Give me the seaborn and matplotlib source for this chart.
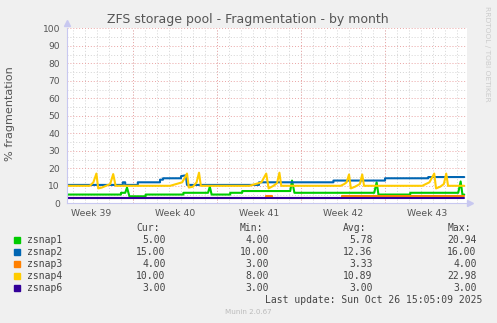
import numpy as np
import pandas as pd
import seaborn as sns
import matplotlib.pyplot as plt

# x values are days counted from the left edge of the graph
zsnap1_days = [0, 4.5, 4.5, 4.85, 5.0, 5.2, 6.55, 6.55, 9.7, 9.7, 11.75, 11.9, 12.05, 13.6, 13.6,
               14.6, 14.6, 18.6, 18.75, 18.95, 25.6, 25.8, 25.95, 28.6, 28.6, 32.6, 32.8, 32.95, 33.1]
zsnap1_vals = [5, 5, 6, 6, 9, 4, 4, 5, 5, 6, 6, 9.5, 5, 5, 6,
               6, 7, 7, 13, 6, 6, 12, 5, 5, 6, 6, 12.5, 5, 5]

zsnap2_days = [0, 4.65, 4.65, 4.85, 4.85, 5.9, 5.9, 7.75, 7.75, 8.0, 8.0, 9.5, 9.5, 9.9, 10.0,
               16.0, 16.0, 22.2, 22.2, 26.5, 26.5, 30.1, 30.1, 33.1]
zsnap2_vals = [10.5, 10.5, 12, 12, 10.5, 10.5, 12, 12, 13.5, 13.5, 14.3, 14.3, 15.5, 16, 10.5,
               10.5, 12, 12, 13, 13, 14.3, 14.3, 15, 15]

zsnap3_days = [0, 16.6, 16.6, 17.1, 17.1, 22.9, 22.9, 33.1]
zsnap3_vals = [3, 3, 4, 4, 3, 3, 4, 4]

zsnap4_days = [0, 1.9, 2.2, 2.45, 2.6, 2.9, 3.6, 3.85, 4.05,
               8.6, 9.6, 10.0, 10.15, 10.5, 10.8, 11.0, 11.15,
               15.2, 15.7, 16.2, 16.6, 16.8, 17.2, 17.5, 17.7, 17.85,
               22.8, 23.1, 23.3, 23.5, 23.65, 24.0, 24.4, 24.6, 24.75,
               29.6, 30.2, 30.6, 30.75, 31.1, 31.4, 31.6, 31.75, 33.1]
zsnap4_vals = [10, 10, 12, 17, 8.5, 9, 11, 16.7, 10,
               10, 12, 17, 9, 9.5, 12, 17.5, 10,
               10, 11, 12, 17, 8.5, 10, 11.5, 17.5, 10,
               10, 11, 12, 16.5, 8.5, 9.5, 11, 16.5, 10,
               10, 12, 17, 8.5, 9.5, 11, 17, 10, 10]

zsnap6_days = [0, 33.1]
zsnap6_vals = [3, 3]

series_names = ["zsnap1", "zsnap2", "zsnap3", "zsnap4", "zsnap6"]
series_colors = ["#00cc00", "#0066b3", "#ff8000", "#ffcc00", "#330099"]
cur_vals = ["5.00", "15.00", "4.00", "10.00", "3.00"]
min_vals = ["4.00", "10.00", "3.00", "8.00", "3.00"]
avg_vals = ["5.78", "12.36", "3.33", "10.89", "3.00"]
max_vals = ["20.94", "16.00", "4.00", "22.98", "3.00"]

week_labels = ["Week 39", "Week 40", "Week 41", "Week 42", "Week 43"]
week_centers = [2.0, 9.0, 16.0, 23.0, 30.0]
week_bounds = [5.5, 12.5, 19.5, 26.5]

all_days = [zsnap1_days, zsnap2_days, zsnap3_days, zsnap4_days, zsnap6_days]
all_vals = [zsnap1_vals, zsnap2_vals, zsnap3_vals, zsnap4_vals, zsnap6_vals]
frames = []
for name, d, v in zip(series_names, all_days, all_vals):
    frames.append(pd.DataFrame({"day": d, "value": v, "series": name}))
df = pd.concat(frames, ignore_index=True)

sns.set_theme(style="white")
plt.rcParams["font.family"] = ["DejaVu Sans"]

W, H = 497, 323
fig = plt.figure(figsize=(W / 100, H / 100), dpi=100, facecolor="#f0f0f0")
ax = fig.add_axes([67 / W, (H - 203.3) / H, 400 / W, 175 / H])
ax.set_facecolor("white")

ax.set_xlim(0, 33.33)
ax.set_ylim(0, 100)

# grid: gray dotted minor, red dotted major
dots = (0, (1, 2))
ax.set_yticks(np.arange(0, 101, 10))
ax.set_yticks(np.arange(0, 101, 5), minor=True)
ax.set_xticks(week_centers)
ax.set_xticks(np.arange(0.5, 33.3, 1.0), minor=True)
ax.set_xticklabels(week_labels)
ax.grid(False)
ax.grid(axis="y", which="minor", color="#d4d4d4", linestyle=dots, linewidth=0.7)
ax.grid(axis="y", which="major", color="#eaa4a4", linestyle=dots, linewidth=0.7)
ax.grid(axis="x", which="minor", color="#d4d4d4", linestyle=dots, linewidth=0.7)
ax.vlines(week_bounds, 0, 100, color="#eaa4a4", linestyle=dots, linewidth=0.7)

sns.lineplot(data=df, x="day", y="value", hue="series", hue_order=series_names,
             palette=dict(zip(series_names, series_colors)), estimator=None, sort=False,
             linewidth=1.5, legend=False, ax=ax)
ax.set_xlabel("")
ax.set_ylabel("")

for s in ["top", "right"]:
    ax.spines[s].set_visible(False)
for s in ["left", "bottom"]:
    ax.spines[s].set_color("#c8c8f0")
    ax.spines[s].set_linewidth(0.8)
ax.plot([0], [1.03], marker="^", ms=4, color="#c8c8f0", transform=ax.transAxes, clip_on=False)
ax.plot([1.008], [0], marker=">", ms=4, color="#c8c8f0", transform=ax.transAxes, clip_on=False)

ax.tick_params(axis="y", which="major", length=2, color="#aaaaaa", labelsize=6.6,
               labelcolor="#555555", pad=3)
ax.tick_params(axis="y", which="minor", length=0)
ax.tick_params(axis="x", which="major", length=0, labelsize=6.7, labelcolor="#555555", pad=4)
ax.tick_params(axis="x", which="minor", length=0)

fig.text(248 / W, 1 - 23.5 / H, "ZFS storage pool - Fragmentation - by month",
         ha="center", va="baseline", fontsize=9, color="#555555")
fig.text(10.5 / W, 1 - 114 / H, "% fragmentation", rotation=90,
         ha="center", va="center", fontsize=8.1, color="#555555")
fig.text(487.3 / W, 1 - 53.5 / H, "RRDTOOL / TOBI OETIKER", rotation=270,
         ha="center", va="center", fontsize=5.4, color="#cccccc")

mono = "DejaVu Sans Mono"
lfs = 7.05
col_x = [165.7, 269.3, 372.7, 476.7]
headers = ["Cur:", "Min:", "Avg:", "Max:"]
for x, h in zip(col_x, headers):
    fig.text((x - 6) / W, 1 - 227.7 / H, h, ha="right", va="center",
             family=mono, fontsize=lfs, color="#444444")
row_y = [239.7, 251.7, 263.7, 275.7, 287.7]
for i, name in enumerate(series_names):
    y = row_y[i]
    fig.patches.append(plt.Rectangle((14 / W, 1 - (y + 3) / H), 6 / W, 6 / H,
                                     transform=fig.transFigure, color=series_colors[i]))
    fig.text(26.7 / W, 1 - y / H, name, ha="left", va="center",
             family=mono, fontsize=lfs, color="#444444")
    for x, vals in zip(col_x, [cur_vals, min_vals, avg_vals, max_vals]):
        fig.text(x / W, 1 - y / H, vals[i], ha="right", va="center",
                 family=mono, fontsize=lfs, color="#444444")
fig.text(482.7 / W, 1 - 299.7 / H, "Last update: Sun Oct 26 15:05:09 2025", ha="right",
         va="center", family=mono, fontsize=lfs, color="#444444")
fig.text(248 / W, 1 - 312.3 / H, "Munin 2.0.67", ha="center", va="center",
         fontsize=5.1, color="#bbbbbb")

fig.savefig("out.png", dpi=100, facecolor=fig.get_facecolor())
